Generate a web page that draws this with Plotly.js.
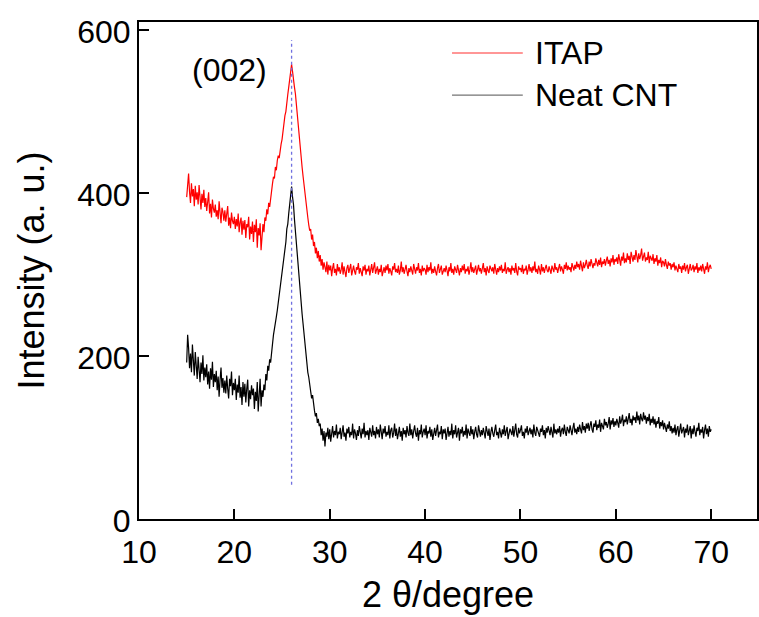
<!DOCTYPE html>
<html>
<head>
<meta charset="utf-8">
<script src="https://cdn.plot.ly/plotly-3.0.1.min.js"></script>
<style>
  html, body { margin: 0; padding: 0; background: #ffffff; }
  #chart { width: 759px; height: 617px; }
</style>
</head>
<body>
<div id="chart"></div>
<script>
// 2θ grid (degrees): first point and spacing of the scans
const TWO_THETA_START = 15;
const TWO_THETA_STEP = 0.1;

// ITAP intensity (a. u.), 15.0° … 70.0° every 0.1° (one row per degree)
const itapIntensity = [
  395, 418, 424, 401, 388, 412, 396, 405, 384, 409,
  392, 401, 386, 410, 395, 380, 399, 388, 404, 383,
  394, 378, 389, 401, 375, 387, 370, 392, 381, 376,
  386, 371, 379, 368, 390, 374, 363, 382, 377, 366,
  379, 365, 372, 384, 360, 370, 357, 376, 366, 362,
  371, 356, 368, 359, 375, 352, 364, 370, 349, 366,
  355, 367, 345, 362, 358, 371, 343, 359, 350, 365,
  340, 361, 352, 368, 333, 357, 348, 363, 330, 355,
  362, 352, 370, 366, 380, 374, 388, 383, 396, 401,
  412, 420, 418, 432, 428, 440, 446, 443, 455, 460,
  466, 478, 482, 495, 500, 514, 521, 530, 538, 546,
  558, 549, 542, 530, 522, 508, 500, 484, 476, 462,
  448, 432, 421, 409, 398, 390, 376, 370, 361, 354,
  356, 343, 349, 335, 340, 326, 333, 320, 329, 316,
  324, 311, 319, 306, 315, 310, 303, 316, 300, 312,
  305, 311, 298, 308, 314, 302, 307, 299, 313, 304,
  309, 301, 306, 315, 300, 310, 303, 297, 308, 312,
  302, 307, 313, 299, 305, 311, 304, 300, 309, 306,
  314, 301, 308, 303, 298, 310, 305, 312, 300, 307,
  304, 311, 299, 306, 313, 302, 308, 315, 301, 305,
  310, 300, 307, 303, 312, 298, 306, 309, 302, 311,
  305, 313, 301, 308, 304, 299, 310, 306, 314, 303,
  307, 302, 311, 300, 305, 316, 303, 309, 301, 306,
  312, 304, 298, 308, 303, 310, 306, 300, 313, 305,
  301, 309, 305, 314, 302, 307, 299, 311, 304, 308,
  306, 300, 312, 303, 309, 305, 315, 301, 307, 302,
  310, 304, 299, 308, 313, 302, 306, 311, 300, 305,
  308, 303, 311, 305, 298, 309, 304, 314, 302, 307,
  300, 310, 306, 302, 312, 305, 299, 308, 303, 311,
  305, 313, 301, 307, 304, 310, 300, 306, 315, 303,
  309, 302, 307, 311, 300, 305, 312, 304, 308, 301,
  306, 314, 303, 308, 299, 310, 305, 302, 311, 307,
  304, 309, 301, 313, 306, 300, 308, 303, 310, 305,
  312, 302, 307, 304, 315, 301, 306, 309, 303, 308,
  300, 311, 305, 308, 302, 314, 304, 299, 310, 306,
  308, 303, 312, 301, 307, 305, 311, 300, 306, 313,
  304, 309, 302, 310, 305, 316, 303, 307, 301, 311,
  306, 300, 313, 304, 309, 302, 308, 312, 305, 303,
  310, 305, 301, 311, 307, 303, 314, 306, 309, 302,
  308, 313, 304, 310, 306, 301, 312, 307, 315, 305,
  311, 306, 309, 303, 314, 308, 305, 312, 307, 316,
  309, 313, 306, 317, 310, 304, 315, 308, 312, 318,
  311, 307, 316, 310, 319, 313, 308, 314, 311, 320,
  314, 310, 318, 312, 321, 309, 316, 313, 319, 311,
  317, 322, 313, 318, 310, 320, 315, 324, 312, 319,
  316, 321, 313, 325, 318, 311, 322, 317, 327, 314,
  320, 315, 326, 318, 323, 313, 328, 319, 316, 324,
  318, 330, 321, 315, 326, 319, 324, 332, 317, 322,
  327, 316, 321, 318, 328, 314, 323, 320, 317, 325,
  313, 320, 316, 324, 311, 318, 314, 321, 309, 317,
  315, 310, 319, 312, 307, 316, 311, 314, 306, 313,
  309, 315, 305, 311, 308, 303, 313, 307, 310, 302,
  311, 306, 314, 304, 309, 312, 301, 308, 313, 305,
  307, 312, 303, 310, 306, 314, 302, 309, 305, 311,
  304, 313, 308, 301, 310, 306, 315, 303, 309, 312,
  307
];

// Neat CNT intensity (a. u.), 15.0° … 70.0° every 0.1° (one row per degree)
const neatCntIntensity = [
  192, 226, 210, 185, 203, 180, 214, 195, 176, 205,
  190, 172, 199, 183, 168, 192, 178, 201, 170, 186,
  174, 190, 165, 181, 160, 185, 171, 193, 162, 178,
  168, 182, 158, 175, 150, 171, 186, 161, 173, 155,
  170, 154, 176, 160, 148, 172, 163, 181, 152, 167,
  158, 172, 146, 165, 155, 176, 149, 162, 140, 168,
  150, 166, 143, 160, 171, 138, 158, 147, 164, 152,
  160, 135, 156, 145, 168, 132, 155, 172, 138, 158,
  150, 165, 158, 178, 170, 188, 182, 196, 192, 208,
  215, 226, 232, 240, 248, 256, 265, 272, 280, 290,
  298, 312, 318, 332, 340, 356, 362, 375, 384, 398,
  408, 395, 386, 368, 352, 340, 322, 310, 292, 280,
  268, 252, 240, 226, 212, 200, 192, 180, 174, 164,
  160, 148, 152, 138, 133, 126, 130, 118, 123, 114,
  117, 103, 111, 96, 108, 89, 106, 101, 112, 98,
  110, 95, 106, 114, 100, 108, 103, 116, 99, 107,
  104, 112, 98, 109, 115, 101, 106, 96, 111, 105,
  113, 100, 107, 103, 117, 99, 110, 105, 97, 109,
  102, 114, 106, 99, 111, 104, 118, 100, 108, 103,
  109, 97, 112, 105, 101, 115, 103, 108, 99, 113,
  104, 110, 100, 116, 106, 98, 111, 105, 114, 101,
  107, 103, 115, 99, 109, 112, 100, 106, 117, 102,
  111, 98, 105, 113, 101, 108, 96, 112, 104, 109,
  100, 114, 106, 102, 117, 103, 110, 99, 108, 115,
  105, 101, 112, 96, 109, 104, 116, 100, 107, 111,
  103, 115, 99, 108, 105, 113, 101, 110, 97, 106,
  112, 102, 109, 116, 100, 107, 104, 114, 98, 110,
  105, 111, 97, 106, 113, 101, 108, 103, 117, 99,
  109, 104, 115, 100, 107, 112, 96, 110, 105, 113,
  101, 108, 103, 116, 99, 111, 106, 102, 114, 104,
  110, 98, 107, 113, 104, 100, 115, 106, 101, 109,
  103, 112, 106, 99, 114, 108, 102, 111, 97, 107,
  113, 105, 101, 109, 116, 103, 107, 99, 112, 106,
  100, 110, 104, 115, 102, 108, 113, 98, 106, 111,
  107, 103, 114, 101, 109, 117, 104, 100, 112, 105,
  109, 115, 102, 107, 99, 111, 106, 114, 103, 108,
  112, 104, 110, 100, 116, 106, 102, 113, 108, 105,
  101, 111, 107, 115, 103, 109, 99, 112, 106, 114,
  108, 103, 113, 106, 100, 117, 105, 110, 104, 111,
  106, 114, 101, 109, 112, 104, 116, 107, 102, 113,
  110, 105, 115, 108, 103, 112, 118, 106, 111, 104,
  113, 107, 116, 110, 105, 119, 109, 114, 106, 117,
  111, 118, 108, 115, 120, 110, 106, 117, 113, 121,
  109, 116, 112, 122, 107, 118, 114, 110, 123, 115,
  119, 112, 117, 125, 110, 121, 116, 124, 113, 120,
  115, 123, 118, 112, 126, 117, 121, 128, 114, 122,
  119, 126, 116, 124, 130, 118, 123, 115, 127, 121,
  125, 118, 132, 121, 127, 116, 129, 123, 120, 131,
  122, 127, 117, 125, 120, 129, 115, 123, 118, 126,
  116, 123, 112, 120, 117, 125, 111, 119, 114, 121,
  110, 118, 113, 107, 116, 111, 120, 108, 114, 105,
  112, 106, 116, 103, 110, 114, 101, 109, 117, 105,
  108, 113, 100, 111, 106, 116, 103, 109, 114, 99,
  111, 104, 115, 107, 101, 112, 108, 118, 103, 110,
  106, 113, 99, 109, 116, 104, 111, 101, 114, 107,
  110
];

const seriesNames = ['ITAP', 'Neat CNT'];
const xTickValues = [10, 20, 30, 40, 50, 60, 70];
const yTickValues = [0, 200, 400, 600];

// (002) reflection marker
const peakLabel = '(002)';
const peak002Position = 26;
const peak002LineFrom = 42;
const peak002LineTo = 588;
const peakLabelX = 19.5;
const peakLabelY = 551;

const FONT = 'Liberation Sans, Arial, Helvetica, sans-serif';

const traces = [
  {
    type: 'scatter', mode: 'lines', name: seriesNames[0],
    x0: TWO_THETA_START, dx: TWO_THETA_STEP, y: itapIntensity,
    line: { color: '#ff0000', width: 1.2 }, showlegend: false
  },
  {
    type: 'scatter', mode: 'lines', name: seriesNames[1],
    x0: TWO_THETA_START, dx: TWO_THETA_STEP, y: neatCntIntensity,
    line: { color: '#000000', width: 1.2 }, showlegend: false
  }
];

// Legend drawn by hand so the sample lines are long like the original
const legendLineX0 = 0.5065, legendLineX1 = 0.621, legendTextX = 0.6375;
const legendRowY = [0.9376, 0.853];
const legendColors = ['rgba(255,0,0,0.55)', 'rgba(0,0,0,0.55)'];

const shapes = [
  {
    type: 'line', xref: 'x', yref: 'y',
    x0: peak002Position, x1: peak002Position, y0: peak002LineFrom, y1: peak002LineTo,
    line: { color: '#7070e0', width: 1.3, dash: 'dot' }
  }
];
const annotations = [
  {
    xref: 'x', yref: 'y', x: peakLabelX, y: peakLabelY, text: peakLabel,
    showarrow: false, xanchor: 'center', yanchor: 'middle',
    font: { family: FONT, size: 32, color: '#000' }
  }
];
seriesNames.forEach((nm, i) => {
  shapes.push({
    type: 'line', xref: 'paper', yref: 'paper',
    x0: legendLineX0, x1: legendLineX1, y0: legendRowY[i], y1: legendRowY[i],
    line: { color: legendColors[i], width: 1.3 }
  });
  annotations.push({
    xref: 'paper', yref: 'paper', x: legendTextX, y: legendRowY[i], text: nm,
    showarrow: false, xanchor: 'left', yanchor: 'middle',
    font: { family: FONT, size: 32, color: '#000' }
  });
});

const axisCommon = {
  showgrid: false, zeroline: false,
  showline: true, linecolor: '#000', linewidth: 2, mirror: true,
  ticks: 'inside', ticklen: 10, tickwidth: 2, tickcolor: '#000',
  tickfont: { family: FONT, size: 32, color: '#000' },
  automargin: false
};

const layout = {
  width: 759, height: 617,
  margin: { l: 139, r: 2, t: 22, b: 98 },
  paper_bgcolor: '#ffffff', plot_bgcolor: '#ffffff',
  showlegend: false,
  xaxis: Object.assign({}, axisCommon, {
    range: [10, 74.8], tickvals: xTickValues, ticktext: xTickValues.map(String),
    ticklabelstandoff: 4,
    title: { text: '2 θ/degree', font: { family: FONT, size: 36, color: '#000' }, standoff: 12 }
  }),
  yaxis: Object.assign({}, axisCommon, {
    range: [0, 610], tickvals: yTickValues, ticktext: yTickValues.map(String),
    ticklabelshift: 2,
    title: { text: 'Intensity (a. u.)', font: { family: FONT, size: 36, color: '#000' }, standoff: 22 }
  }),
  shapes: shapes,
  annotations: annotations
};

Plotly.newPlot('chart', traces, layout, { displayModeBar: false, staticPlot: true });
</script>
</body>
</html>
